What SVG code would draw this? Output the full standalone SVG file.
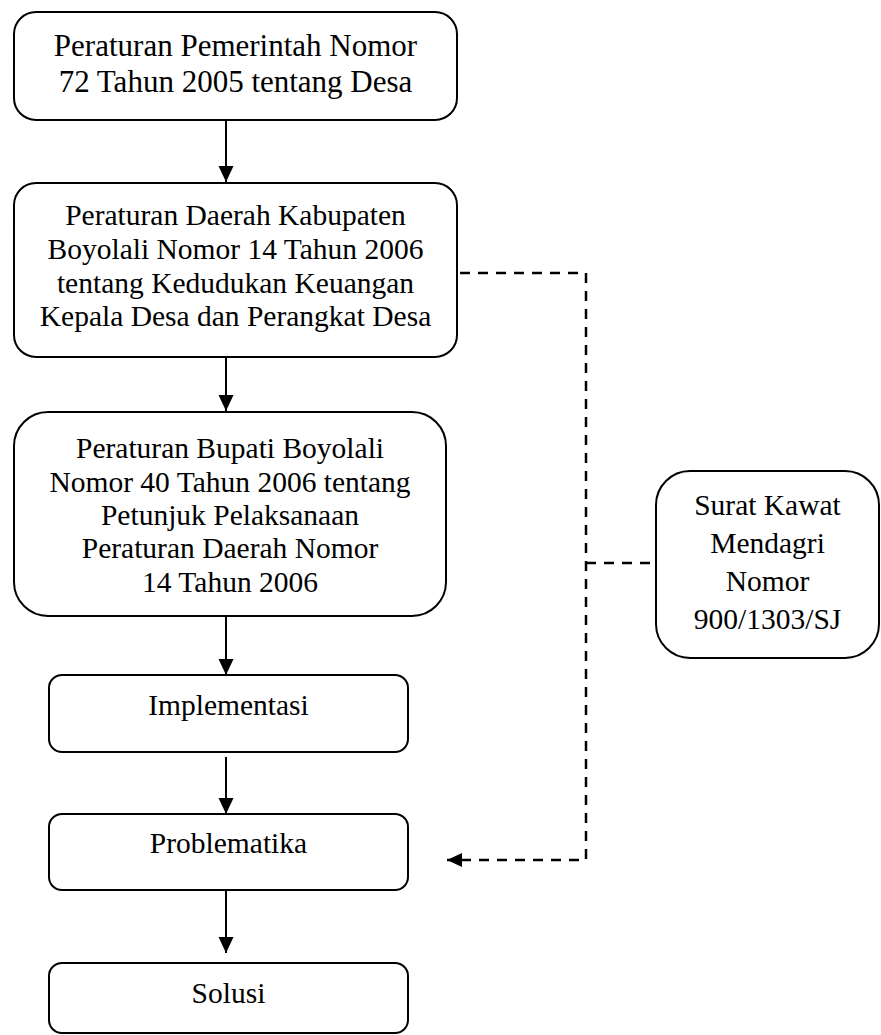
<svg xmlns="http://www.w3.org/2000/svg" width="881" height="1035" viewBox="0 0 881 1035">
<style>
.box{fill:#fff;stroke:#000;stroke-width:2}
.t{font-family:"Liberation Serif","Times New Roman",serif;font-size:29.5px;fill:#000;text-anchor:middle}
.big{font-size:31px}
.arr{stroke:#000;stroke-width:2;fill:none}
.dash{stroke:#000;stroke-width:2.5;fill:none;stroke-dasharray:10 8}
</style>
<defs>
<marker id="ah" markerUnits="userSpaceOnUse" markerWidth="16" markerHeight="16" refX="16" refY="7.5" orient="auto">
<path d="M0,0 L16,7.5 L0,15 z" fill="#000"/>
</marker>
<marker id="ahd" markerUnits="userSpaceOnUse" markerWidth="15" markerHeight="14" refX="15" refY="7" orient="auto">
<path d="M0,0 L15,7 L0,14 z" fill="#000"/>
</marker>
</defs>
<g id="connectors">
<line class="arr" x1="226" y1="120" x2="226" y2="182" marker-end="url(#ah)"/>
<line class="arr" x1="226" y1="357" x2="226" y2="411" marker-end="url(#ah)"/>
<line class="arr" x1="226" y1="616" x2="226" y2="675" marker-end="url(#ah)"/>
<line class="arr" x1="226" y1="757" x2="226" y2="814" marker-end="url(#ah)"/>
<line class="arr" x1="226" y1="890" x2="226" y2="953" marker-end="url(#ah)"/>
<path class="dash" d="M460,273 H586 V860 H447" marker-end="url(#ahd)"/>
<path class="dash" d="M586,563 H656"/>
</g>
<g id="n1">
<rect class="box" x="14" y="12" width="443" height="108" rx="22"/>
<text class="t big" x="235.5" y="56">Peraturan Pemerintah Nomor</text>
<text class="t big" x="235.5" y="92">72 Tahun 2005 tentang Desa</text>
</g>
<g id="n2">
<rect class="box" x="14" y="183" width="443" height="174" rx="22"/>
<text class="t" x="235.5" y="225">Peraturan Daerah Kabupaten</text>
<text class="t" x="235.5" y="259">Boyolali Nomor 14 Tahun 2006</text>
<text class="t" x="235.5" y="293">tentang Kedudukan Keuangan</text>
<text class="t" x="235.5" y="326">Kepala Desa dan Perangkat Desa</text>
</g>
<g id="n3">
<rect class="box" x="14" y="412" width="432" height="204" rx="34"/>
<text class="t" x="230" y="458">Peraturan Bupati Boyolali</text>
<text class="t" x="230" y="492">Nomor 40 Tahun 2006 tentang</text>
<text class="t" x="230" y="525">Petunjuk Pelaksanaan</text>
<text class="t" x="230" y="558">Peraturan Daerah Nomor</text>
<text class="t" x="230" y="592">14 Tahun 2006</text>
</g>
<g id="n4">
<rect class="box" x="49" y="675" width="359" height="77" rx="13"/>
<text class="t" x="228.5" y="715">Implementasi</text>
</g>
<g id="n5">
<rect class="box" x="49" y="814" width="359" height="76" rx="13"/>
<text class="t" x="228.5" y="853">Problematika</text>
</g>
<g id="n6">
<rect class="box" x="49" y="963" width="359" height="70" rx="13"/>
<text class="t" x="228.5" y="1003">Solusi</text>
</g>
<g id="n7">
<rect class="box" x="656" y="471" width="223" height="187" rx="34"/>
<text class="t" x="767.5" y="515">Surat Kawat</text>
<text class="t" x="767.5" y="553">Mendagri</text>
<text class="t" x="767.5" y="591">Nomor</text>
<text class="t" x="767.5" y="629">900/1303/SJ</text>
</g>
</svg>
